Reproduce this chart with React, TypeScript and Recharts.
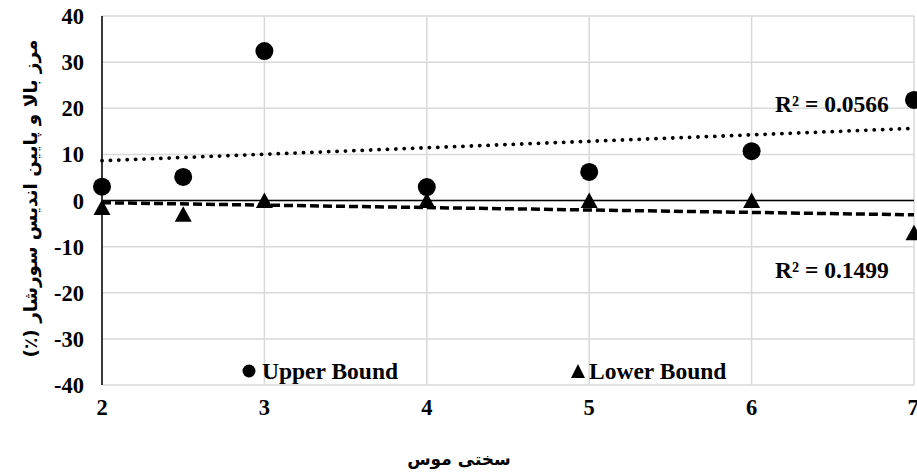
import React from 'react';
import { ComposedChart, Scatter, XAxis, YAxis, CartesianGrid, ReferenceLine } from 'recharts';

const hardness = [2, 2.5, 3, 4, 5, 6, 7];
const upperBound = [3, 5.1, 32.4, 2.9, 6.2, 10.7, 21.8];
const lowerBound = [-1.5, -3, 0, 0, 0, 0, -7];
const xTicks = [2, 3, 4, 5, 6, 7];
const yTicks = [-40, -30, -20, -10, 0, 10, 20, 30, 40];
const upperR2 = 'R² = 0.0566';
const lowerR2 = 'R² = 0.1499';

const serif = '"Liberation Serif", "Times New Roman", serif';
const persian = '"DejaVu Sans", sans-serif';

// least squares fit, same as the Excel linear trendline
function fit(xs: number[], ys: number[]) {
  const n = xs.length;
  const mx = xs.reduce((a, b) => a + b, 0) / n;
  const my = ys.reduce((a, b) => a + b, 0) / n;
  let sxy = 0;
  let sxx = 0;
  xs.forEach((x, i) => {
    sxy += (x - mx) * (ys[i] - my);
    sxx += (x - mx) * (x - mx);
  });
  const slope = sxy / sxx;
  const b = my - slope * mx;
  const x0 = xs[0];
  const x1 = xs[n - 1];
  return [{ x: x0, y: b + slope * x0 }, { x: x1, y: b + slope * x1 }];
}

const upperData = hardness.map((x, i) => ({ x, y: upperBound[i] }));
const lowerData = hardness.map((x, i) => ({ x, y: lowerBound[i] }));

const Circle = (p: any) => <circle cx={p.cx} cy={p.cy} r={9} fill="#000" />;
const Triangle = (p: any) => (
  <polygon points={`${p.cx},${p.cy - 8} ${p.cx + 8.5},${p.cy + 7.5} ${p.cx - 8.5},${p.cy + 7.5}`} fill="#000" />
);

const txt = { fontFamily: serif, fontWeight: 700, fontSize: 23.5 };

const XTick = (p: any) => (
  <text x={p.x} y={p.y} dy={8} textAnchor="middle" fontFamily={serif} fontWeight={700} fontSize={22.5} fill="#000">
    {p.payload.value}
  </text>
);
const YTick = (p: any) => (
  <text x={p.x} y={p.y} dy={8} textAnchor="end" fontFamily={serif} fontWeight={700} fontSize={22.5} fill="#000">
    {p.payload.value}
  </text>
);

export default function App() {
  return (
    <div style={{ position: 'absolute', left: 0, top: 0, width: 917, height: 472, background: '#fff' }}>
      <ComposedChart width={917} height={472} margin={{ top: 16, right: 3, bottom: 0, left: 0 }}>
        <CartesianGrid stroke="#d9d9d9" strokeWidth={1.5} />
        <XAxis
          type="number"
          dataKey="x"
          domain={[2, 7]}
          ticks={xTicks}
          axisLine={false}
          tickLine={false}
          tickSize={0}
          tickMargin={22}
          height={87}
          tick={XTick}
          label={{
            content: () => (
              <text x={459} y={465} textAnchor="middle" direction="rtl" style={{ fontFamily: persian, fontWeight: 700, fontSize: 17, direction: 'rtl' }}>
                سختی موس
              </text>
            ),
          }}
        />
        <YAxis
          type="number"
          dataKey="y"
          domain={[-40, 40]}
          ticks={yTicks}
          width={102}
          axisLine={{ stroke: '#000', strokeWidth: 1.5 }}
          tickLine={false}
          tickSize={0}
          tickMargin={18}
          tick={YTick}
          label={{
            content: (props: any) => {
              const vb = props.viewBox;
              const cx = 30;
              const cy = vb.y + vb.height / 2 - 2;
              return (
                <text x={cx} y={cy} transform={`rotate(-90 ${cx} ${cy})`} textAnchor="middle" dominantBaseline="central" direction="rtl" style={{ fontFamily: persian, fontWeight: 700, fontSize: 18.5, direction: 'rtl' }}>
                  مرز بالا و پایین اندیس سورشار (٪)
                </text>
              );
            },
          }}
        />
        <ReferenceLine y={0} stroke="#000" strokeWidth={1.5} />
        <ReferenceLine segment={fit(hardness, upperBound)} stroke="#000" strokeWidth={3.8} strokeDasharray="0.1 8.3" strokeLinecap="round" />
        <ReferenceLine segment={fit(hardness, lowerBound)} stroke="#000" strokeWidth={3.5} strokeDasharray="9 4" />
        <Scatter name="Upper Bound" data={upperData} shape={Circle} isAnimationActive={false} />
        <Scatter name="Lower Bound" data={lowerData} shape={Triangle} isAnimationActive={false} />
        <text x={775} y={112} style={txt}>{upperR2}</text>
        <text x={775} y={278} style={txt}>{lowerR2}</text>
        <circle cx={249} cy={371} r={6.5} fill="#000" />
        <text x={262} y={379} style={txt}>Upper Bound</text>
        <polygon points="578,364 585,378 571,378" fill="#000" />
        <text x={589} y={379} style={txt}>Lower Bound</text>
      </ComposedChart>
    </div>
  );
}
